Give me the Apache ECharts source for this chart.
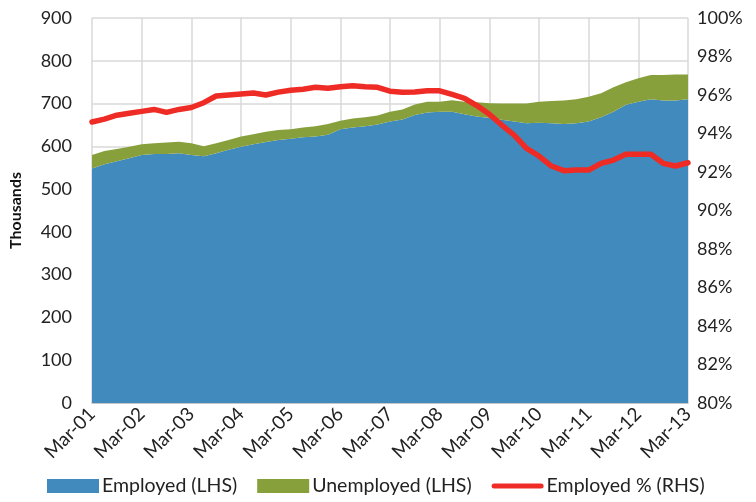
<!DOCTYPE html>
<html>
<head>
<meta charset="utf-8">
<script src="https://cdn.jsdelivr.net/npm/echarts@6/dist/echarts.min.js"></script>
<style>html,body{margin:0;padding:0;background:#fff}#c{width:756px;height:502px}</style>
</head>
<body>
<div id="c"></div>
<script>
var years = ['01','02','03','04','05','06','07','08','09','10','11','12','13'];
var qMonths = ['Mar','Jun','Sep','Dec'];
var categories = [];
for (var y = 0; y < years.length; y++) {
  for (var q = 0; q < 4; q++) {
    if (y === years.length - 1 && q > 0) break;
    categories.push(qMonths[q] + '-' + years[y]);
  }
}
var employed = [548,558,565,572,580,582,582,584,580,577,584,592,599,605,610,615,618,621,623,627,640,644,647,651,658,663,673,679,681,681,675,670,666,662,658,654,655,654,652,654,658,668,681,697,704,710,707,707,710];
var totalLabour = [580,589,594,599,605,607,609,611,607,600,607,615,623,628,634,638,640,644,647,652,660,665,668,672,681,686,698,704,704,708,704,703,701,700,700,700,704,706,707,710,716,724,738,750,759,767,767,768,768];
var unemployed = totalLabour.map(function(t, i){ return t - employed[i]; });
var employedPct = [94.6,94.75,94.95,95.05,95.15,95.25,95.1,95.25,95.35,95.6,95.95,96.0,96.05,96.1,96.0,96.15,96.25,96.3,96.4,96.35,96.43,96.48,96.43,96.4,96.2,96.14,96.16,96.22,96.22,96.03,95.83,95.45,95.0,94.44,93.92,93.23,92.83,92.31,92.07,92.1,92.1,92.45,92.62,92.92,92.92,92.92,92.45,92.31,92.48];

var font = 'Lato';
var chart = echarts.init(document.getElementById('c'));
chart.setOption({
  animation: false,
  textStyle: {fontFamily: font},
  grid: {left: 92, right: 68, top: 18, bottom: 99},
  legend: {
    bottom: 1, left: 42,
    itemWidth: 52, itemHeight: 14, itemGap: 20,
    textStyle: {fontFamily: font, fontSize: 19.5, color: '#222', padding: [0, 0, 0, -2]},
    data: [
      {name: 'Employed (LHS)', icon: 'rect'},
      {name: 'Unemployed (LHS)', icon: 'rect'},
      {name: 'Employed % (RHS)', icon: 'path://M2.5,0 L49.5,0 A2.5,2.5 0 0 1 49.5,5 L2.5,5 A2.5,2.5 0 0 1 2.5,0 Z'}
    ]
  },
  xAxis: {
    type: 'category', data: categories, boundaryGap: false,
    axisLine: {lineStyle: {color: '#bfbfbf', width: 1.5}},
    axisTick: {show: false},
    axisLabel: {interval: 3, rotate: 45, fontSize: 19, color: '#222', fontFamily: font, margin: 8},
    splitLine: {show: true, interval: 3, lineStyle: {color: '#d9d9d9', width: 1.5}}
  },
  yAxis: [{
    type: 'value', min: 0, max: 900, interval: 100,
    name: 'Thousands', nameLocation: 'middle', nameGap: 68,
    nameTextStyle: {fontFamily: font, fontSize: 16, fontWeight: 'bold', color: '#111'},
    axisLabel: {fontSize: 18, color: '#222', fontFamily: font, margin: 20},
    axisLine: {show: false}, axisTick: {show: false},
    splitLine: {lineStyle: {color: '#d9d9d9', width: 1.5}}
  }, {
    type: 'value', min: 80, max: 100, interval: 2,
    axisLabel: {fontSize: 18, color: '#222', fontFamily: font, margin: 9, formatter: function(v){ return v + '%'; }},
    axisLine: {show: false}, axisTick: {show: false},
    splitLine: {show: false}
  }],
  series: [{
    name: 'Employed (LHS)', type: 'line', stack: 'lab', data: employed,
    symbol: 'none', lineStyle: {width: 0}, itemStyle: {color: '#418ABD'},
    areaStyle: {color: '#418ABD', opacity: 1}, z: 2
  }, {
    name: 'Unemployed (LHS)', type: 'line', stack: 'lab', data: unemployed,
    symbol: 'none', lineStyle: {width: 0}, itemStyle: {color: '#87A03C'},
    areaStyle: {color: '#87A03C', opacity: 1}, z: 2
  }, {
    name: 'Employed % (RHS)', type: 'line', yAxisIndex: 1, data: employedPct,
    symbol: 'none', lineStyle: {width: 5.5, color: '#EE2C25', cap: 'round', join: 'round'},
    itemStyle: {color: '#EE2C25'}, z: 3
  }]
});
</script>
</body>
</html>
